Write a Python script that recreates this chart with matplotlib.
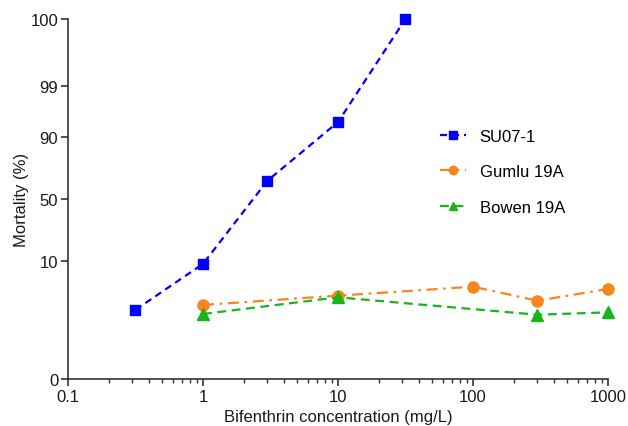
import numpy as np
import matplotlib
matplotlib.use("Agg")
import matplotlib.pyplot as plt
from matplotlib.ticker import FixedLocator, FixedFormatter, LogLocator, NullFormatter
from statistics import NormalDist

plt.rcParams['font.family'] = ['Liberation Sans', 'DejaVu Sans']

# Data
su_x = [0.316, 1, 3, 10, 31.6]
su_y = [1.1, 9.0, 64.7, 94.4, 100]
gumlu_x = [1, 10, 100, 300, 1000]
gumlu_y = [1.43, 2.29, 3.5, 1.78, 3.15]
bowen_x = [1, 10, 300, 1000]
bowen_y = [0.875, 2.11, 0.84, 0.96]
y_ticks = [0, 10, 50, 90, 99, 100]
x_ticks = [0.1, 1, 10, 100, 1000]
x_ticklabels = ['0.1', '1', '10', '100', '1000']

_nd = NormalDist()

def fwd(p):
    p = np.clip(np.asarray(p, dtype=float), 0.01, 99.99) / 100.0
    return np.vectorize(_nd.inv_cdf, otypes=[float])(p) if p.ndim else np.float64(_nd.inv_cdf(float(p)))

def inv(z):
    z = np.asarray(z, dtype=float)
    return np.vectorize(_nd.cdf, otypes=[float])(z) * 100.0 if z.ndim else np.float64(_nd.cdf(float(z)) * 100.0)

fig = plt.figure(figsize=(6.28, 4.27), dpi=100)
ax = fig.add_axes([68/628, 1-380/427, (608-68)/628, (380-20)/427])
ax.set_xscale('log')
ax.set_yscale('function', functions=(fwd, inv))

blue = '#0000FF'
orange = '#F7861C'
green = '#19B419'

ax.plot(su_x, su_y, color=blue, ls=(0, (3.2, 2.2)), lw=1.6, marker='s', ms=7.5,
        label='SU07-1', clip_on=False, zorder=3)
ax.plot(gumlu_x, gumlu_y, color=orange, ls=(0, (5, 2.5, 1.2, 2.5)), lw=1.6, marker='o', ms=8,
        label='Gumlu 19A', clip_on=False, zorder=3)
ax.plot(bowen_x, bowen_y, color=green, ls=(0, (4, 2.5)), lw=1.6, marker='^', ms=8,
        label='Bowen 19A', clip_on=False, zorder=3)

ax.set_xlim(0.1, 1000)
ax.set_ylim(0, 100)

ax.yaxis.set_major_locator(FixedLocator(y_ticks))
ax.yaxis.set_major_formatter(FixedFormatter([str(t) for t in y_ticks]))
ax.yaxis.set_minor_locator(FixedLocator([]))
ax.xaxis.set_major_locator(FixedLocator(x_ticks))
ax.xaxis.set_major_formatter(FixedFormatter(x_ticklabels))
ax.xaxis.set_minor_locator(LogLocator(base=10, subs=np.arange(2, 10), numticks=20))
ax.xaxis.set_minor_formatter(NullFormatter())

for s in ['top', 'right']:
    ax.spines[s].set_visible(False)
for s in ['left', 'bottom']:
    ax.spines[s].set_color('#333333')
    ax.spines[s].set_linewidth(1.2)

ax.tick_params(axis='both', which='major', length=5, width=1.2, color='#333333',
               labelsize=12, labelcolor='#1a1a1a', pad=2)
ax.tick_params(axis='x', which='minor', length=3, width=1.0, color='#333333')

ax.set_xlabel('Bifenthrin concentration (mg/L)', fontsize=12, color='#1a1a1a', labelpad=4)
ax.set_ylabel('Mortality (%)', fontsize=12, color='#1a1a1a', labelpad=1)

leg = ax.legend(loc='upper left', bbox_to_anchor=(0.676, 0.713), frameon=False,
                fontsize=12, handlelength=1.55, labelspacing=1.22, handletextpad=0.85,
                borderaxespad=0, markerscale=0.75)

fig.savefig('out.png', dpi=100)
